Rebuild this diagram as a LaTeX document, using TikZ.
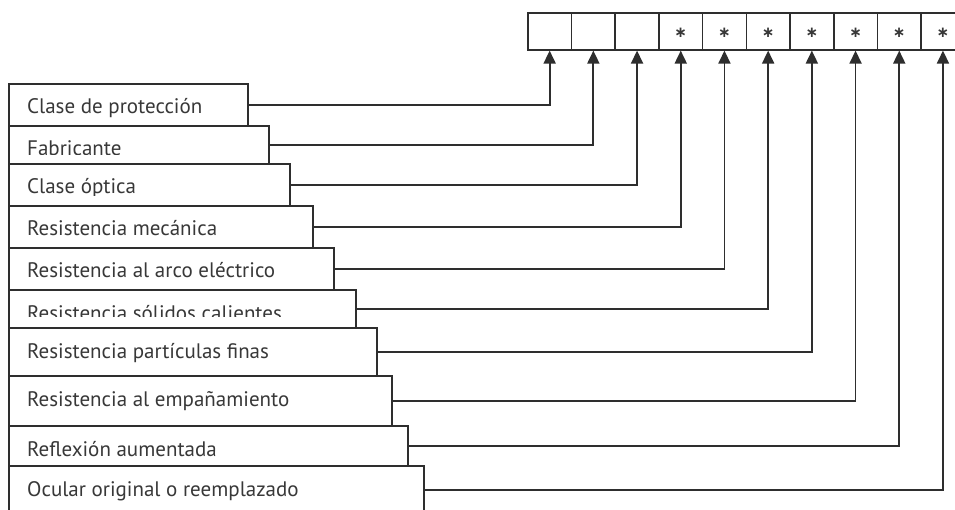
\documentclass[tikz,border=0pt]{standalone}
\usepackage{fontspec}
\setmainfont{PT Sans}
\newfontfamily\symfont{DejaVu Sans}
\usetikzlibrary{arrows.meta}
\definecolor{ink}{HTML}{2E2E2E}
\definecolor{txt}{HTML}{383838}
\begin{document}
\begin{tikzpicture}[x=1pt,y=-1pt,
  cell/.style={draw=ink, line width=1.6pt, fill=white, minimum width=43.7pt, minimum height=37pt, inner sep=0pt, anchor=north west},
  starmark/.style={inner sep=0pt, text=txt, font=\symfont\bfseries\fontsize{15}{15}\selectfont},
  lbox/.style={draw=ink, line width=1.7pt, fill=white, anchor=north west, inner sep=0pt},
  ltext/.style={anchor=base west, inner sep=0pt, text=txt, font=\fontsize{21}{23}\selectfont},
  conn/.style={draw=ink, line width=1.8pt, -{Triangle[length=13pt,width=12pt]}},
]
\useasboundingbox (0,0) rectangle (955,510);
\clip (0,0) rectangle (955,510);
\fill[white] (0,0) rectangle (955,510);
% top row of cells
\foreach \j in {1,...,10}
  \node[cell] (c\j) at ({527+(\j-1)*43.7},12) {};
\foreach \j in {4,...,10}
  \node[starmark] (s\j) at ([yshift=-2pt]c\j.center) {∗};
% label boxes
\foreach \i/\ya/\xr/\yb/\yc/\lab in {
  1/83/247/125/125/Clase de protección,
  2/125/268/163/155/Fabricante,
  3/163/289/205/196/Clase óptica,
  4/205/312/247/247/Resistencia mecánica,
  5/247/333/289/289/Resistencia al arco eléctrico,
  6/289/355/327/317/Resistencia sólidos calientes,
  7/327/376/375/375/Resistencia partículas finas,
  8/375/391/425/425/Resistencia al empañamiento,
  9/425/407/465/465/Reflexión aumentada,
  10/465/423/513/513/Ocular original o reemplazado}{
  \node[lbox, minimum width={(\xr-8)*1pt}, minimum height={(\yb-\ya)*1pt}] (b\i) at (8,\ya) {};
  \begin{scope}
    \clip (9,\ya) rectangle (\xr,\yc);
    \node[ltext] (t\i) at (27,\ya+31) {\lab};
  \end{scope}
  \draw[conn] (b\i.east) -| (c\i.south);
}
\end{tikzpicture}
\end{document}
